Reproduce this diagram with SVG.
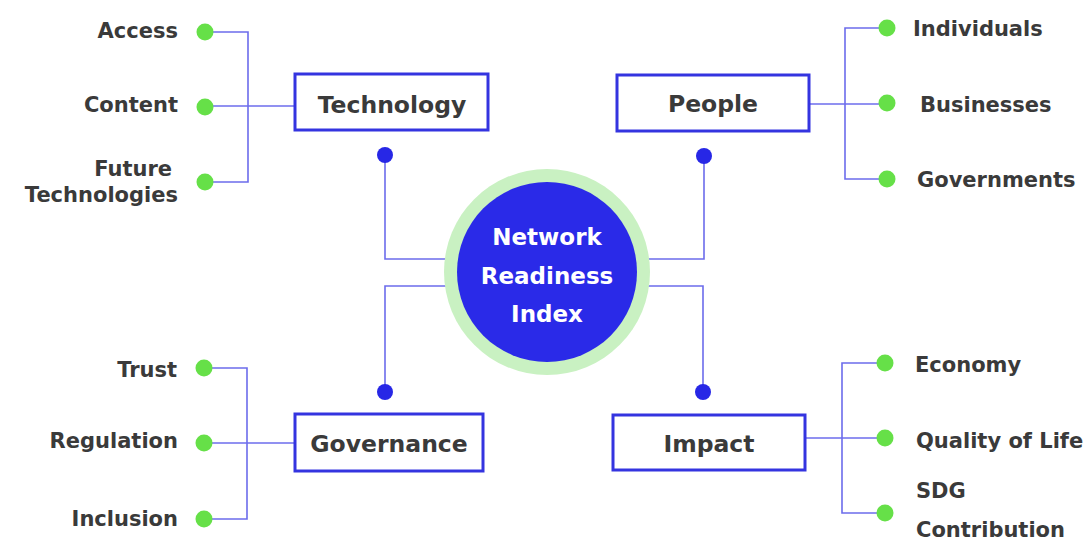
<svg xmlns="http://www.w3.org/2000/svg" width="1084" height="540" viewBox="0 0 1084 540">
<style>
.bg{fill:#ffffff}
.ln{fill:none;stroke:#6c6cec;stroke-width:1.6}
.gd{fill:#66e048}
.bd{fill:#2727e6}
.box{fill:#ffffff;stroke:#3434e0;stroke-width:3}
.lbl{font-family:"DejaVu Sans",sans-serif;font-weight:bold;font-size:21px;fill:#3a3a3a}
.blbl{font-family:"DejaVu Sans",sans-serif;font-weight:bold;font-size:23.5px;fill:#3a3a3a;text-anchor:middle}
.clbl{font-family:"DejaVu Sans",sans-serif;font-weight:bold;font-size:23px;fill:#ffffff;text-anchor:middle}
.end{text-anchor:end}
</style>
<rect class="bg" x="0" y="0" width="1084" height="540"/>
<g id="connectors">
  <polyline class="ln" points="385,155 385,259 447,259"/>
  <polyline class="ln" points="704,156 704,259 646,259"/>
  <polyline class="ln" points="385,392 385,286 447,286"/>
  <polyline class="ln" points="703,392 703,286 646,286"/>
  <polyline class="ln" points="205,32 248,32 248,182 205,182"/>
  <line class="ln" x1="205" y1="106" x2="295" y2="106"/>
  <polyline class="ln" points="887,28 845,28 845,179 887,179"/>
  <line class="ln" x1="810" y1="104" x2="887" y2="104"/>
  <polyline class="ln" points="204,368 247,368 247,519 204,519"/>
  <line class="ln" x1="204" y1="443" x2="295" y2="443"/>
  <polyline class="ln" points="885,363 842,363 842,513 885,513"/>
  <line class="ln" x1="805" y1="438" x2="885" y2="438"/>
</g>
<g id="center">
  <circle cx="547" cy="272" r="103" fill="#c9f1c2"/>
  <circle cx="547" cy="272" r="90" fill="#2a2ae8"/>
  <text class="clbl" x="547" y="245">Network</text>
  <text class="clbl" x="547" y="284">Readiness</text>
  <text class="clbl" x="547" y="322">Index</text>
</g>
<g id="technology">
  <rect class="box" x="295" y="74" width="193" height="56"/>
  <text class="blbl" x="392" y="113">Technology</text>
  <circle class="bd" cx="385" cy="155" r="8"/>
</g>
<g id="people">
  <rect class="box" x="617" y="75" width="192" height="56"/>
  <text class="blbl" x="713" y="112">People</text>
  <circle class="bd" cx="704" cy="156" r="8"/>
</g>
<g id="governance">
  <rect class="box" x="295" y="414" width="188" height="57"/>
  <text class="blbl" x="389" y="452">Governance</text>
  <circle class="bd" cx="385" cy="392" r="8"/>
</g>
<g id="impact">
  <rect class="box" x="613" y="415" width="192" height="55"/>
  <text class="blbl" x="709" y="452">Impact</text>
  <circle class="bd" cx="703" cy="392" r="8"/>
</g>
<g id="access"><circle class="gd" cx="205" cy="32" r="8.5"/><text class="lbl end" x="178" y="38">Access</text></g>
<g id="content"><circle class="gd" cx="205" cy="107" r="8.5"/><text class="lbl end" x="178" y="112">Content</text></g>
<g id="future-technologies"><circle class="gd" cx="205" cy="182" r="8.5"/><text class="lbl end" x="172" y="176">Future</text><text class="lbl end" x="178" y="202">Technologies</text></g>
<g id="individuals"><circle class="gd" cx="887" cy="28" r="8.5"/><text class="lbl" x="913" y="36">Individuals</text></g>
<g id="businesses"><circle class="gd" cx="887" cy="103" r="8.5"/><text class="lbl" x="920" y="112">Businesses</text></g>
<g id="governments"><circle class="gd" cx="887" cy="179" r="8.5"/><text class="lbl" x="917" y="187">Governments</text></g>
<g id="trust"><circle class="gd" cx="204" cy="368" r="8.5"/><text class="lbl end" x="177" y="377">Trust</text></g>
<g id="regulation"><circle class="gd" cx="204" cy="443" r="8.5"/><text class="lbl end" x="178" y="448">Regulation</text></g>
<g id="inclusion"><circle class="gd" cx="204" cy="519" r="8.5"/><text class="lbl end" x="178" y="526">Inclusion</text></g>
<g id="economy"><circle class="gd" cx="885" cy="363" r="8.5"/><text class="lbl" x="915" y="372">Economy</text></g>
<g id="quality-of-life"><circle class="gd" cx="885" cy="438" r="8.5"/><text class="lbl" x="916" y="448">Quality of Life</text></g>
<g id="sdg-contribution"><circle class="gd" cx="885" cy="513" r="8.5"/><text class="lbl" x="916" y="498">SDG</text><text class="lbl" x="916" y="537">Contribution</text></g>
</svg>
